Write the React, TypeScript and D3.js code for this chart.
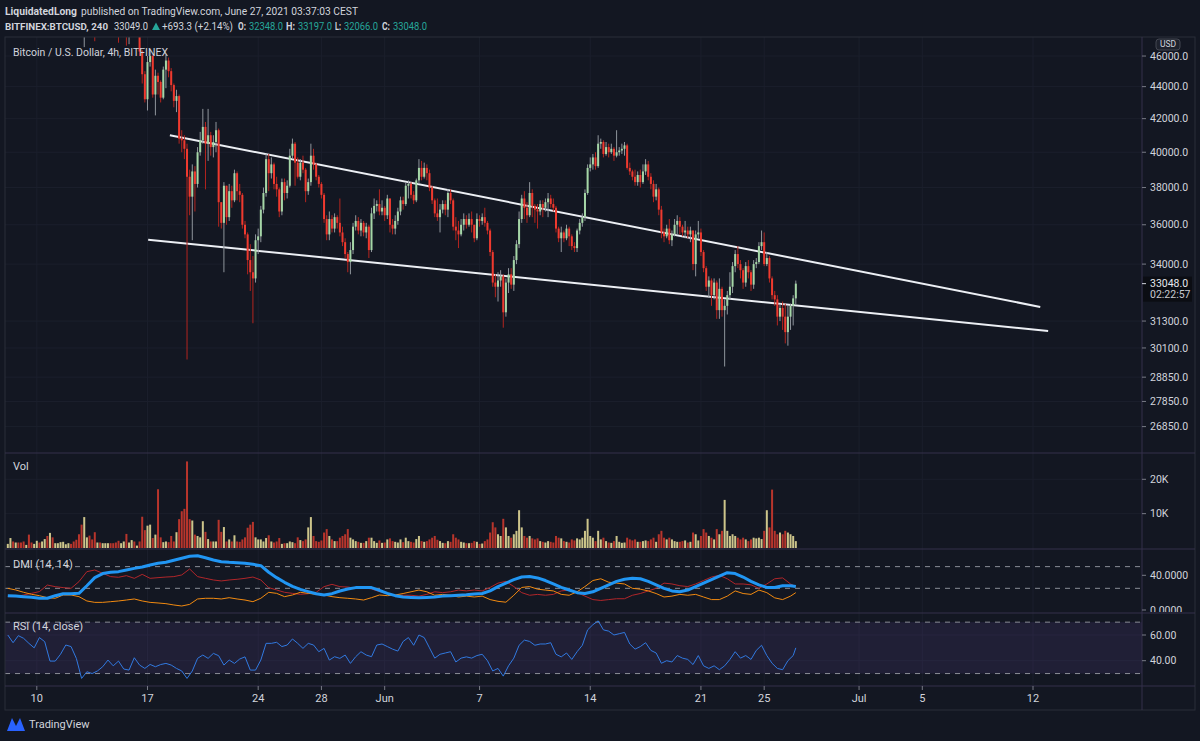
import React from "react";
import * as d3 from "d3";

// ---------- DATA ----------
const START = Date.UTC(2021, 4, 8, 4); // first 4h candle (UTC)
const STEP_MS = 4 * 3600 * 1000;
const FIRST_OPEN = 58000;

const closes = [
  58500, 58900, 58400, 58700, 58300, 57600, 57000, 57400, 56500, 56200,
  57300, 58200, 57600, 58000, 58400, 56600, 57200, 55600, 56000, 56300,
  56600, 56900, 57100, 57300, 56800, 56200, 55300, 53500, 50200, 50800,
  51000, 50300, 49800, 49000, 49600, 49300, 49800, 50600, 51000, 50200,
  49800, 49200, 48000, 48400, 48700, 47300, 47800, 48300, 48000, 48700,
  46300, 44800, 43200, 45600, 46000, 43500, 44700, 44300, 43300, 45100,
  45700, 45000, 44100, 43100, 43400, 40800, 40700, 40200, 38600, 37500,
  38900, 38200, 40000, 40700, 41500, 40500, 41000, 40300, 40600, 41300,
  37200, 36100, 38100, 36400, 37800, 37300, 38800, 37800, 37600, 36000,
  35500, 34200, 33600, 33300, 35200, 35400, 36800, 37700, 39600, 38800,
  39300, 38200, 37900, 36700, 38300, 37700, 38100, 39800, 40500, 39400,
  38600, 39400, 39000, 37800, 38300, 39800, 39300, 38600, 38200, 37600,
  36300, 35500, 36300, 35800, 36400, 36100, 35600, 35100, 34500, 34100,
  34700, 35900, 36200, 35700, 36100, 35600, 35900, 34700, 36600, 37000,
  37100, 36700, 36900, 36500, 37400, 36000, 35800, 36200, 36700, 37300,
  37100, 38100, 38200, 37600, 37300, 38400, 39100, 38600, 39100, 38800,
  38000, 37300, 36600, 36400, 36800, 37100, 36800, 37700, 37300, 35900,
  35700, 35500, 36000, 36300, 36000, 36300, 36000, 35300, 36300, 36200,
  36400, 36100, 35700, 34600, 33100, 32900, 33200, 33400, 31700, 33100,
  33500, 33000, 34200, 35000, 36300, 37400, 36900, 36500, 37700, 37000,
  36800, 36700, 37100, 36900, 37200, 37400, 37100, 36900, 35800, 35300,
  35600, 35300, 35800, 35400, 34900, 34800, 35700, 36100, 36400, 37700,
  39100, 39300, 39700, 39200, 40500, 40600, 39900, 40300, 40000, 40200,
  39800, 40000, 40100, 40200, 40400, 39100, 38900, 38600, 38300, 38700,
  38300, 38900, 39300, 38600, 38200, 37500, 37900, 36800, 35600, 35400,
  35800, 35200, 35500, 36000, 36200, 35900, 35600, 35700, 35500, 35700,
  34000, 35500, 35600, 34600, 33800, 32900, 33200, 32500, 33100, 31800,
  32800, 31800, 32000, 32500, 32900, 33900, 34500, 34000, 33700, 33100,
  33900, 33600, 33000, 34000, 34100, 34900, 35100, 34000, 34300, 33300,
  32500, 32300, 31500, 31900, 31500, 30800, 31500, 32000, 32348, 33048,
];

const highs = [
  58900, 59200, 59000, 58900, 58800, 58400, 57700, 57600, 57500, 56800,
  57500, 58500, 58300, 58200, 58600, 58500, 57400, 57300, 56300, 56600,
  56800, 57100, 57300, 57600, 57500, 56900, 56300, 55400, 53600, 51200,
  51400, 51100, 50500, 50000, 49900, 49900, 50000, 50900, 51300, 51100,
  50300, 49900, 49300, 48700, 49000, 48800, 48000, 48500, 48500, 49000,
  48800, 46400, 45000, 46000, 46400, 46100, 45100, 44900, 44400, 45300,
  46100, 45900, 45200, 44200, 43800, 43500, 41300, 41000, 40500, 39000,
  39300, 39200, 40300, 41200, 42600, 41800, 42600, 41200, 41000, 41800,
  41400, 37200, 38300, 38100, 38200, 38100, 39000, 38900, 38200, 37700,
  36200, 35600, 35000, 34400, 35500, 35800, 37000, 38000, 39900, 39900,
  39700, 39400, 38600, 38000, 38500, 38500, 38400, 40200, 40800, 40600,
  39700, 39600, 39800, 39100, 38500, 40500, 40200, 39400, 38700, 38300,
  37700, 36500, 36700, 36500, 36600, 36500, 37400, 35900, 35300, 34600,
  35100, 36100, 36500, 36400, 36300, 36200, 36100, 36000, 36900, 37400,
  37300, 37900, 37300, 37000, 37600, 37300, 36300, 36500, 36900, 37500,
  37500, 38300, 38400, 38300, 37800, 38500, 39600, 39500, 39400, 39300,
  39000, 38100, 37400, 37400, 37100, 37300, 37300, 37900, 37900, 37400,
  36400, 36200, 36300, 36600, 36500, 36600, 36700, 36000, 36600, 36500,
  36600, 36900, 36200, 35800, 34700, 33500, 33600, 33700, 33500, 33300,
  33800, 33800, 34400, 35200, 36700, 37600, 37800, 37200, 38300, 37900,
  37100, 37100, 37300, 37300, 37400, 37700, 37600, 37400, 37000, 35900,
  35900, 35700, 36000, 35900, 35500, 35100, 35800, 36300, 36600, 37900,
  39300, 39700, 39900, 40000, 41000, 40800, 40700, 40600, 40500, 40500,
  40300, 41300, 40300, 40500, 40600, 40500, 39400, 39000, 39000, 38900,
  39000, 39300, 39600, 39500, 38800, 38400, 38200, 38000, 37000, 35800,
  36000, 36300, 35700, 36300, 36500, 36400, 36000, 36200, 35900, 35900,
  35700, 35700, 36200, 35800, 34700, 33900, 33400, 33300, 33300, 33200,
  33300, 32900, 32300, 32700, 33600, 34100, 34700, 34900, 34200, 33800,
  34100, 34200, 33700, 34200, 34300, 35100, 35700, 35600, 34600, 34400,
  33400, 32700, 32500, 32100, 32200, 32100, 32000, 32100, 32500, 33197,
];

const lows = [
  57800, 58300, 58100, 58200, 58000, 57300, 56600, 56800, 56100, 55900,
  56000, 57100, 57300, 57400, 57800, 56300, 56300, 55200, 55400, 55800,
  56100, 56400, 56700, 56900, 56500, 55900, 55000, 53000, 49500, 46600,
  50200, 49900, 49300, 47000, 48700, 48900, 49000, 49600, 50400, 49900,
  49500, 48800, 46900, 47300, 47800, 46700, 46800, 47500, 47600, 47700,
  46000, 44200, 43000, 42500, 45300, 43300, 42200, 43500, 43000, 43200,
  43900, 44600, 43700, 42700, 42400, 40500, 40000, 39600, 29600, 36500,
  35200, 36700, 38000, 39800, 40500, 37900, 39500, 39800, 39700, 40000,
  35900, 35800, 33600, 36000, 36200, 36900, 37200, 37300, 37200, 35800,
  35300, 33500, 32700, 31200, 33100, 34500, 35100, 36600, 37500, 37800,
  38500, 37900, 37500, 36400, 36500, 37300, 37400, 38000, 39600, 38100,
  38500, 38400, 38800, 37200, 37600, 38100, 39000, 38400, 38000, 37400,
  36100, 35200, 35200, 35600, 35600, 35800, 35400, 34900, 34300, 33600,
  33500, 34500, 35700, 35500, 35400, 35400, 35300, 34300, 34600, 36300,
  36700, 36500, 36500, 36200, 36300, 35600, 35500, 35500, 36000, 36500,
  36800, 37000, 37400, 37400, 37100, 37200, 38200, 38400, 38500, 38400,
  37800, 37100, 36400, 36200, 35600, 36600, 36500, 36400, 37100, 35700,
  35200, 34800, 35400, 35700, 35800, 35900, 35600, 35100, 35200, 35900,
  36000, 35900, 35500, 34400, 32900, 32400, 32200, 32900, 31000, 31500,
  32600, 32800, 32700, 34000, 34800, 36100, 36300, 36100, 36400, 36400,
  36100, 35800, 36500, 36400, 36700, 36400, 36900, 36700, 35600, 35100,
  34600, 35100, 35200, 34900, 34700, 34600, 34600, 35500, 35900, 36200,
  37600, 38900, 39000, 39000, 39100, 40200, 39700, 39800, 39700, 39900,
  39500, 39700, 39800, 39900, 39800, 39000, 38700, 38400, 38100, 38100,
  38000, 38200, 38700, 38400, 37900, 37200, 37300, 36500, 35300, 35100,
  35300, 35000, 34900, 35400, 35500, 35500, 35400, 35300, 35300, 35100,
  33700, 33400, 35300, 34400, 33600, 32700, 32400, 32000, 32300, 31400,
  31400, 31500, 29300, 31600, 32300, 32600, 33600, 33800, 33300, 32800,
  32900, 33300, 32700, 32800, 33800, 34000, 34700, 33900, 33900, 33100,
  32300, 32000, 31100, 31300, 30900, 30300, 30200, 30900, 31100, 32066,
];

// volume in thousands (BTC)
const volumeK = [
  1.2, 2.9, 1.9, 1.6, 1.6, 1.6, 1.9, 0.9, 3.9, 1.6,
  1.2, 2.1, 1.6, 1.9, 2.6, 3.5, 4.4, 3.1, 1.4, 1.4,
  1.7, 1.8, 1.1, 1.4, 1.2, 1.9, 2.4, 4.0, 6.8, 9.0,
  3.1, 3.6, 2.5, 4.6, 1.6, 1.6, 1.4, 1.4, 1.4, 1.4,
  1.4, 1.6, 2.1, 1.4, 1.9, 4.1, 1.6, 2.3, 1.9, 0.7,
  1.9, 9.1, 5.2, 6.5, 6.8, 2.9, 3.9, 17.1, 3.1, 1.7,
  1.9, 1.7, 3.5, 1.9, 4.6, 8.4, 10.7, 11.4, 25.2, 8.4,
  8.0, 3.9, 3.5, 3.1, 7.8, 4.7, 2.6, 1.9, 1.9, 1.9,
  8.2, 4.7, 6.1, 1.9, 2.5, 1.9, 3.7, 1.9, 1.8, 2.5,
  3.1, 5.9, 6.8, 7.6, 3.1, 2.5, 2.5, 1.9, 2.9, 3.7,
  1.9, 1.6, 1.9, 2.9, 1.2, 1.4, 1.4, 1.9, 1.7, 1.4,
  3.1, 2.3, 2.0, 2.5, 6.0, 9.0, 3.5, 2.0, 1.8, 2.2,
  4.5, 5.5, 3.5, 2.5, 2.0, 2.0, 3.0, 3.5,
  4.0, 5.5, 3.0, 2.5, 2.0, 1.8, 1.5, 1.5,
  2.0, 3.0, 3.0, 2.0, 1.5, 2.2, 1.5, 1.6,
  2.5, 2.8, 2.0, 1.8, 1.6, 2.5, 1.7, 3.0,
  2.0, 1.8, 1.6, 2.6, 3.5, 2.0, 1.8, 2.0,
  2.5, 3.0, 3.5, 2.4, 2.0, 1.5, 1.4, 2.0,
  1.8, 4.0, 3.0, 2.5, 1.8, 1.6, 1.4, 1.4,
  1.5, 2.0, 1.8, 1.2, 1.3, 2.0, 2.5, 4.5,
  7.5, 6.0, 4.0, 3.5, 8.5, 6.0, 3.5, 3.0,
  4.0, 5.0, 11.0, 6.0, 3.5, 3.0, 3.5, 2.8,
  2.5, 2.8, 2.0, 1.8, 1.6, 2.0, 1.8, 1.6,
  3.5, 3.0, 2.8, 2.0, 1.8, 1.6, 2.5, 2.2,
  2.8, 2.5, 3.0, 5.0, 8.5, 3.5, 3.0, 2.0,
  5.0, 2.5, 3.0, 2.0, 1.6, 1.5, 2.0, 3.5,
  1.8, 1.5, 1.6, 3.0, 2.5, 2.2, 2.5, 1.8,
  1.8, 2.0, 2.2, 2.0, 2.5, 3.0, 1.8, 4.0,
  5.0, 3.0, 2.5, 3.0, 2.5, 2.0, 1.8, 1.8,
  2.0, 2.2, 1.6, 1.8, 4.5, 4.0, 2.2, 3.5,
  5.5, 4.5, 3.5, 3.0, 2.5, 5.5, 4.0, 5.0,
  14.0, 5.0, 3.5, 4.0, 3.5, 3.0, 2.5, 3.0,
  2.5, 2.0, 2.5, 3.0, 2.8, 3.0, 2.6, 5.0,
  11.0, 6.0, 17.0, 5.0, 4.0, 4.5, 4.0, 5.0,
  4.5, 4.0, 3.5, 2.0,
];

// DMI (14,14) sampled every 3 candles (last point = last candle)
const DMI_STEP = 3;
const adx = [
  16.5, 16.2, 15.4, 14.6, 13.5, 13.5, 16.5, 18.8, 18.8, 19.2,
  28, 37.3, 42, 43.5, 44.2, 46.1, 48, 49.6, 51.9, 53.8,
  55, 57.3, 59.6, 61.9, 62.6, 60.3, 57.6, 55.7, 55, 54.6,
  53.8, 52.7, 51.1, 43.5, 37.3, 31.9, 27.3, 23.8, 21.2, 18.8,
  17.3, 18.8, 21.9, 24.2, 25.8, 25.8, 25.8, 22.7, 19.2, 16.5,
  15, 14.5, 14, 14.5, 15, 16, 16.5, 17, 17.5, 18.5,
  19, 22, 27, 31, 35, 38, 38.5, 37, 34, 30,
  26, 23, 20, 19, 21, 25, 29, 33, 35.5, 36.5,
  36, 33, 29, 25, 22, 21, 23, 27, 31, 35,
  39, 43, 42, 38, 33, 29, 26, 26, 28, 28,
  27,
];
const minusDI = [
  15.4, 15.4, 17.3, 19.2, 21.2, 28.8, 26.9, 25.8, 25, 32.7,
  44.2, 46.1, 42.3, 38.5, 37.7, 39.6, 36.5, 41.1, 36.5, 37.3,
  38, 38.5, 40.4, 47.3, 38.5, 36.5, 34.6, 33.5, 34.6, 35.4,
  36.5, 38, 34.6, 25.8, 23.1, 20.4, 19.2, 18.1, 18.8, 20.4,
  26.9, 29.6, 26.9, 26.5, 25, 25.8, 24.2, 21.2, 18.8, 17.3,
  17, 17, 16, 18, 21, 20, 21, 23, 22, 23,
  22, 26, 31, 33, 27, 20, 17, 18, 17, 18,
  22, 23, 20, 16, 12, 11, 12, 13, 13, 17,
  19, 22, 25, 31, 30, 28, 27, 30, 34, 38,
  40, 36, 30, 30, 29, 25, 30, 36, 37, 30,
  27,
];
const plusDI = [
  25, 23.1, 20.4, 18.1, 16.5, 14.2, 13.5, 17.3, 17.3, 15.4,
  10.4, 8.8, 8.8, 9.6, 10.4, 11.5, 12.7, 10.4, 8.8, 8.1,
  7.3, 5.8, 4.6, 6.5, 12.7, 13.5, 13.5, 12.7, 14.2, 12.7,
  11.5, 9.6, 13.5, 20.4, 19.2, 15.4, 17.3, 20.4, 19.2, 18.1,
  17.3, 15.4, 14.2, 13.5, 12.7, 11.5, 14.2, 17.3, 16.5, 17.3,
  19, 21, 23, 21, 17, 18, 17, 15, 16, 15,
  16, 12, 10, 9, 17, 26, 27, 24, 23, 22,
  18, 17, 21, 27, 34, 36, 32, 31, 30, 25,
  24, 22, 19, 15, 16, 18, 17, 18, 15, 12,
  12, 16, 22, 19, 18, 23, 20, 14, 12, 16,
  20,
];

// RSI (14, close) sampled every 2 candles (last point = last candle)
const RSI_STEP = 2;
const rsi = [
  60, 54, 59.5, 57.4, 53.5, 50, 58, 54.8, 39.7, 39.7,
  45, 52.2, 51, 41.8, 26.2, 31.4, 30, 32, 35.3, 40.5,
  36, 39.7, 33.5, 32.7, 42.3, 36.6, 34, 37.1, 35.3, 37,
  37.9, 36.6, 34, 32, 26.2, 32, 41.8, 44.4, 41.8, 45.7,
  43.9, 36.6, 40.5, 37.9, 41.3, 43, 32.7, 32.7, 40.5, 53.5,
  53.5, 54.3, 51, 52.2, 56.9, 53.5, 49.6, 53.5, 52.2, 47,
  49.6, 40.5, 43.1, 41.8, 44.4, 37.9, 43.1, 47, 44.4, 43.1,
  52.2, 53, 51, 49, 47.5,
  55, 58, 52, 60, 58, 50, 42, 45, 46, 47,
  39, 42, 43, 42, 44, 45, 40, 32, 34, 28,
  36, 42, 52, 56, 55, 52, 53, 53, 54, 45,
  43, 46, 41, 47, 52, 64, 68, 71, 64, 63,
  60, 61, 62, 53, 49, 51, 54, 48, 46, 38,
  40, 39, 44, 42, 41, 37, 44, 36, 34, 36,
  33, 36, 41, 47, 42, 44, 41, 48, 52, 44,
  38, 34, 33, 40, 44,
  50,
];

const priceTicks = [46000, 44000, 42000, 40000, 38000, 36000, 34000, 31300, 30100, 28850, 27850, 26850];
const volTicks = [20, 10];
const dmiTicks = [40, 0];
const dmiBands = [50, 25];
const rsiTicks = [60, 40];
const rsiBands = [70, 30];
const dateTicks: [number, string][] = [
  [Date.UTC(2021, 4, 10), "10"], [Date.UTC(2021, 4, 17), "17"], [Date.UTC(2021, 4, 24), "24"],
  [Date.UTC(2021, 4, 28), "28"], [Date.UTC(2021, 5, 1), "Jun"], [Date.UTC(2021, 5, 7), "7"],
  [Date.UTC(2021, 5, 14), "14"], [Date.UTC(2021, 5, 21), "21"], [Date.UTC(2021, 5, 25), "25"],
  [Date.UTC(2021, 6, 1), "Jul"], [Date.UTC(2021, 6, 5), "5"], [Date.UTC(2021, 6, 12), "12"],
];
const trendLines = [
  { t1: Date.UTC(2021, 4, 18, 10), p1: 41000, t2: Date.UTC(2021, 6, 12, 11), p2: 31950 },
  { t1: Date.UTC(2021, 4, 17, 1), p1: 35230, t2: Date.UTC(2021, 6, 12, 23), p2: 30850 },
];
const LAST_PRICE = 33048;
const COUNTDOWN = "02:22:57";

// header line 2 pieces: [text, x, width, bold, teal, fontSize]
const headerLine2: [string, number, number, boolean, boolean, number][] = [
  ["BITFINEX:BTCUSD, 240", 5, 103, true, false, 9.5],
  ["33049.0", 114, 34, false, false, 10],
  ["+693.3 (+2.14%)", 162, 71, false, false, 10],
  ["O:", 238, 8, true, false, 10],
  ["32348.0", 249, 34, false, true, 10],
  ["H:", 286, 9, true, false, 10],
  ["33197.0", 298, 34, false, true, 10],
  ["L:", 335, 6, true, false, 10],
  ["32066.0", 344, 34, false, true, 10],
  ["C:", 382, 8, true, false, 10],
  ["33048.0", 393, 34, false, true, 10],
];

// ---------- LAYOUT / STYLE ----------
const BG = "#131722";
const TXT = "#d1d4dc";
const TEAL = "#26a69a";
const SEP = "#35304a";
const GRID = "#1b1f2c";
const L = 5, AX = 1142, R = 1195;
const P_TOP = 37, P_BOT = 453, V_BOT = 549, D_BOT = 613, R_BOT = 686, F_BOT = 710;
const FONT = "Roboto, 'Liberation Sans', sans-serif";

export default function App() {
  const n = closes.length;
  const tOf = (i: number) => new Date(START + Math.min(i, n - 1) * STEP_MS);
  const x = d3.scaleUtc().domain([Date.UTC(2021, 4, 10), Date.UTC(2021, 6, 12)]).range([36.8, 1033]);
  const yP = d3.scaleLog().domain([25840, 47290]).range([P_BOT, P_TOP]);
  const yV = d3.scaleLinear().domain([0, 20]).range([548, 479.3]);
  const yD = d3.scaleLinear().domain([0, 40]).range([610, 575.3]);
  const yR = d3.scaleLinear().domain([40, 60]).range([660.7, 635]);

  const candles = closes.map((c, i) => {
    const o = i === 0 ? FIRST_OPEN : closes[i - 1];
    return { i, o, c, h: Math.max(highs[i], o, c), l: Math.min(lows[i], o, c), up: c >= o };
  });

  const lineFor = (step: number, y: (v: number) => number) =>
    d3.line<number>().x((_, k) => x(tOf(k * step))).y((v) => y(v));

  const dmiLine = lineFor(DMI_STEP, yD);
  const rsiLine = lineFor(RSI_STEP, yR);

  const fs = 11;

  return (
    <svg width={1200} height={741} style={{ position: "absolute", left: 0, top: 0, display: "block" }} fontFamily={FONT}>
      <defs>
        <clipPath id="cp"><rect x={L} y={P_TOP} width={AX - L} height={P_BOT - P_TOP} /></clipPath>
        <clipPath id="cv"><rect x={L} y={P_BOT} width={AX - L} height={V_BOT - P_BOT} /></clipPath>
        <clipPath id="cd"><rect x={L} y={V_BOT} width={AX - L} height={D_BOT - V_BOT} /></clipPath>
        <clipPath id="cr"><rect x={L} y={D_BOT} width={AX - L} height={R_BOT - D_BOT} /></clipPath>
        <clipPath id="cda"><rect x={AX} y={V_BOT} width={R - AX} height={D_BOT - V_BOT - 1} /></clipPath>
      </defs>
      <rect x={0} y={0} width={1200} height={741} fill={BG} />

      {/* header */}
      <g fill={TXT}>
        <text x={5} y={15} fontSize={10} fontWeight="bold" textLength={72} lengthAdjust="spacingAndGlyphs">LiquidatedLong</text>
        <text x={81} y={15} fontSize={10} textLength={277} lengthAdjust="spacingAndGlyphs">published on TradingView.com, June 27, 2021 03:37:03 CEST</text>
        {headerLine2.map(([t, hx, w, b, teal, f]) => (
          <text key={"h" + hx} x={hx} y={30} fontSize={f} fontWeight={b ? "bold" : "normal"} fill={teal ? TEAL : TXT}
            textLength={w} lengthAdjust="spacingAndGlyphs">{t}</text>
        ))}
        <path d="M152,30 L160,30 L156,22.5 Z" fill={TEAL} />
      </g>

      {/* grid */}
      <g stroke={GRID} strokeWidth={1}>
        {dateTicks.map(([d]) => (
          <line key={"vg" + d} x1={x(new Date(d))} x2={x(new Date(d))} y1={P_TOP} y2={R_BOT} />
        ))}
        {priceTicks.map((p) => (
          <line key={"hg" + p} x1={L} x2={AX} y1={yP(p)} y2={yP(p)} />
        ))}
        {volTicks.map((v) => <line key={"vt" + v} x1={L} x2={AX} y1={yV(v)} y2={yV(v)} />)}
        {rsiTicks.map((v) => <line key={"rt" + v} x1={L} x2={AX} y1={yR(v)} y2={yR(v)} />)}
      </g>

      {/* trend lines */}
      <g clipPath="url(#cp)">
        {trendLines.map((t, k) => (
          <line key={"tl" + k} x1={x(new Date(t.t1))} y1={yP(t.p1)} x2={x(new Date(t.t2))} y2={yP(t.p2)}
            stroke="#eceff4" strokeWidth={2} />
        ))}
      </g>

      {/* candles */}
      <g clipPath="url(#cp)">
        {candles.map((d) => {
          const cx = x(tOf(d.i));
          const yo = yP(d.o), yc = yP(d.c);
          const top = Math.min(yo, yc), hgt = Math.max(1, Math.abs(yo - yc));
          return (
            <g key={"c" + d.i}>
              <line x1={cx} x2={cx} y1={yP(d.h)} y2={yP(d.l)} stroke={d.up ? "#8f959c" : "#b3251f"} strokeWidth={1} />
              <rect x={cx - 1} y={top} width={2} height={hgt} fill={d.up ? "#a5d6a7" : "#ef3a2f"} />
            </g>
          );
        })}
      </g>

      {/* volume */}
      <g clipPath="url(#cv)">
        {volumeK.map((v, i) => {
          const cx = x(tOf(i));
          return <rect key={"v" + i} x={cx - 1} y={yV(v)} width={2} height={yV(0) - yV(v)}
            fill={candles[i].up ? "#cdc58b" : "#b8352c"} />;
        })}
      </g>

      {/* DMI */}
      <g clipPath="url(#cd)">
        {dmiBands.map((b) => (
          <line key={"db" + b} x1={L} x2={AX} y1={yD(b)} y2={yD(b)} stroke="#8a8d96" strokeDasharray="5 5" strokeWidth={1} />
        ))}
        <path d={dmiLine(minusDI) || ""} fill="none" stroke="#b0262a" strokeWidth={1} />
        <path d={dmiLine(plusDI) || ""} fill="none" stroke="#f28a10" strokeWidth={1} />
        <path d={dmiLine(adx) || ""} fill="none" stroke="#2196f3" strokeWidth={3} strokeLinejoin="round" />
      </g>

      {/* RSI */}
      <g clipPath="url(#cr)">
        <rect x={L} y={yR(rsiBands[0])} width={AX - L} height={yR(rsiBands[1]) - yR(rsiBands[0])} fill="#7e57c2" fillOpacity={0.13} />
        {rsiBands.map((b) => (
          <line key={"rb" + b} x1={L} x2={AX} y1={yR(b)} y2={yR(b)} stroke="#8a8d96" strokeDasharray="5 5" strokeWidth={1} />
        ))}
        <path d={rsiLine(rsi) || ""} fill="none" stroke="#3179e0" strokeWidth={1} />
      </g>

      {/* pane legends */}
      <g fontSize={fs} fill={TXT}>
        <text x={13} y={56} textLength={155} lengthAdjust="spacingAndGlyphs">Bitcoin / U.S. Dollar, 4h, BITFINEX</text>
        <text x={13} y={470}>Vol</text>
        <text x={13} y={568}>DMI (14, 14)</text>
        <text x={13} y={630}>RSI (14, close)</text>
      </g>

      {/* frame and separators */}
      <g stroke={SEP} strokeWidth={1} fill="none">
        <rect x={L} y={P_TOP} width={R - L} height={F_BOT - P_TOP} stroke="#2a2e39" />
        {[P_BOT, V_BOT, D_BOT, R_BOT].map((y) => <line key={"s" + y} x1={L} x2={R} y1={y} y2={y} />)}
        <line x1={AX} x2={AX} y1={P_TOP} y2={F_BOT} />
      </g>

      {/* right axis */}
      <g fontSize={10.5} fill={TXT}>
        {priceTicks.map((p) => (
          <g key={"pl" + p}>
            <line x1={AX} x2={AX + 4} y1={yP(p)} y2={yP(p)} stroke="#787b86" />
            <text x={1150} y={yP(p)} dy="0.35em">{p.toFixed(1)}</text>
          </g>
        ))}
        {volTicks.map((v) => (
          <g key={"vl" + v}>
            <line x1={AX} x2={AX + 4} y1={yV(v)} y2={yV(v)} stroke="#787b86" />
            <text x={1150} y={yV(v)} dy="0.35em">{v + "K"}</text>
          </g>
        ))}
        <g clipPath="url(#cda)">
          {dmiTicks.map((v) => (
            <g key={"dl" + v}>
              <line x1={AX} x2={AX + 4} y1={yD(v)} y2={yD(v)} stroke="#787b86" />
              <text x={1150} y={yD(v)} dy="0.35em">{v.toFixed(4)}</text>
            </g>
          ))}
        </g>
        {rsiTicks.map((v) => (
          <g key={"rl" + v}>
            <line x1={AX} x2={AX + 4} y1={yR(v)} y2={yR(v)} stroke="#787b86" />
            <text x={1150} y={yR(v)} dy="0.35em">{v.toFixed(2)}</text>
          </g>
        ))}
        {/* last price box */}
        <rect x={AX + 1} y={yP(LAST_PRICE) - 7} width={49} height={25} fill="#0b0d13" />
        <line x1={AX} x2={AX + 4} y1={yP(LAST_PRICE)} y2={yP(LAST_PRICE)} stroke={TXT} />
        <text x={1150} y={yP(LAST_PRICE)} dy="0.35em" fill="#e6e8ee">{LAST_PRICE.toFixed(1)}</text>
        <text x={1150} y={yP(LAST_PRICE) + 11} dy="0.35em" fill="#c8cad0">{COUNTDOWN}</text>
        {/* USD badge */}
        <rect x={1156} y={39} width={24} height={11} rx={3} fill="#1e222d" stroke="#434651" />
        <text x={1168} y={44.5} dy="0.35em" textAnchor="middle" fontSize={8.5}>USD</text>
      </g>

      {/* time axis */}
      <g fontSize={fs} fill={TXT} textAnchor="middle">
        {dateTicks.map(([d, lab]) => (
          <g key={"dt" + d}>
            <line x1={x(new Date(d))} x2={x(new Date(d))} y1={R_BOT} y2={R_BOT + 4} stroke="#787b86" />
            <text x={x(new Date(d))} y={702}>{lab}</text>
          </g>
        ))}
      </g>

      {/* TradingView logo */}
      <g>
        <path d="M7,731 L12,718 L16,726 L20,718 L25,731 Z" fill="#2962ff" />
        <text x={29} y={728} fontSize={11} fill={TXT}>TradingView</text>
      </g>
    </svg>
  );
}
